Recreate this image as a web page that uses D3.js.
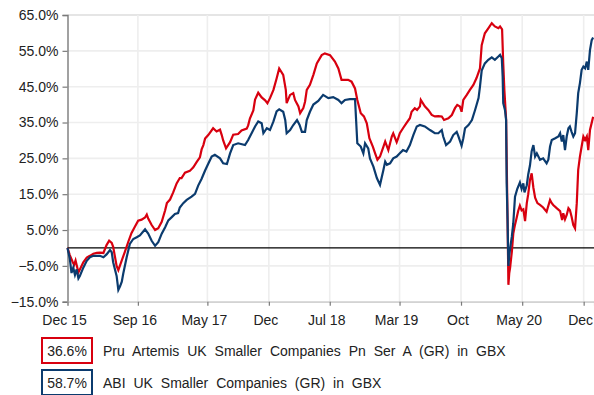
<!DOCTYPE html>
<html>
<head>
<meta charset="utf-8">
<script src="https://cdn.jsdelivr.net/npm/d3@7"></script>
<style>
  html, body { margin: 0; padding: 0; background: #fff; }
  svg { display: block; font-family: "Liberation Sans", Arial, sans-serif; }
</style>
</head>
<body>
<svg id="chart" width="594" height="395"></svg>
<script>
// Cumulative total return (%) since 31 Dec 2015
const pruDates = ["2015-12-31","2016-01-08","2016-01-18","2016-01-23","2016-01-28","2016-01-31","2016-02-07","2016-02-12","2016-02-24","2016-03-07","2016-03-18","2016-03-30","2016-04-11","2016-04-22","2016-05-04","2016-05-15","2016-05-24","2016-06-02","2016-06-07","2016-06-19","2016-06-25","2016-07-07","2016-07-18","2016-07-30","2016-08-10","2016-08-22","2016-09-02","2016-09-14","2016-09-26","2016-10-02","2016-10-07","2016-10-19","2016-10-31","2016-11-11","2016-11-23","2016-12-05","2016-12-11","2016-12-22","2017-01-02","2017-01-14","2017-01-25","2017-01-31","2017-02-12","2017-03-01","2017-03-13","2017-03-25","2017-04-05","2017-04-11","2017-04-17","2017-04-23","2017-05-04","2017-05-21","2017-06-02","2017-06-14","2017-06-20","2017-06-25","2017-07-05","2017-07-19","2017-07-30","2017-08-16","2017-08-28","2017-09-15","2017-09-20","2017-09-26","2017-10-08","2017-10-14","2017-10-25","2017-11-06","2017-11-18","2017-11-26","2017-12-05","2017-12-17","2017-12-28","2018-01-06","2018-01-20","2018-01-29","2018-02-01","2018-02-13","2018-02-24","2018-03-02","2018-03-14","2018-03-20","2018-03-31","2018-04-06","2018-04-12","2018-04-23","2018-05-05","2018-05-17","2018-06-03","2018-06-14","2018-07-02","2018-07-19","2018-07-31","2018-08-11","2018-09-03","2018-09-15","2018-09-27","2018-10-05","2018-10-17","2018-10-28","2018-11-07","2018-11-16","2018-11-28","2018-12-06","2018-12-14","2018-12-23","2019-01-04","2019-01-10","2019-01-21","2019-02-02","2019-02-07","2019-02-19","2019-02-24","2019-03-02","2019-03-13","2019-03-25","2019-04-06","2019-04-12","2019-04-23","2019-05-01","2019-05-11","2019-05-14","2019-05-28","2019-06-09","2019-06-21","2019-07-02","2019-07-14","2019-07-26","2019-08-03","2019-08-18","2019-08-30","2019-09-10","2019-09-18","2019-09-27","2019-10-03","2019-10-09","2019-10-21","2019-11-01","2019-11-13","2019-11-24","2019-12-06","2019-12-12","2019-12-23","2020-01-04","2020-01-16","2020-01-27","2020-02-08","2020-02-14","2020-02-21","2020-02-25","2020-02-29","2020-03-06","2020-03-11","2020-03-14","2020-03-17","2020-03-20","2020-03-26","2020-03-31","2020-04-06","2020-04-12","2020-04-17","2020-04-23","2020-04-29","2020-05-05","2020-05-11","2020-05-17","2020-05-22","2020-05-28","2020-06-03","2020-06-09","2020-06-15","2020-06-23","2020-07-02","2020-07-13","2020-07-25","2020-08-06","2020-08-12","2020-08-17","2020-08-29","2020-09-10","2020-09-17","2020-09-21","2020-09-27","2020-10-03","2020-10-09","2020-10-14","2020-10-20","2020-10-26","2020-11-01","2020-11-07","2020-11-12","2020-11-18","2020-11-24","2020-11-30","2020-12-06","2020-12-12","2020-12-17","2020-12-23","2021-01-03"];
const pruValues = [0,-2.0,-3.9,-4.7,-3.5,-4.5,-6.8,-6.0,-4.0,-2.7,-2.2,-1.6,-1.4,-1.3,-1.4,0.8,2.0,1.4,0.3,-5.0,-6.2,-3.5,-1.0,1.8,4.2,6.0,7.6,7.9,8.5,9.3,8.2,6.4,5.0,5.5,7.3,10.5,12.5,13.5,15.5,18.0,19.5,19.5,21.0,21.5,22.5,24.0,25.3,27.5,28.7,30.5,31.5,33.4,32.5,33.0,31.5,30.0,27.8,29.5,31.6,31.8,32.8,33.3,34.2,36.1,38.4,41.4,43.3,42.0,41.2,40.4,41.8,44.1,47.3,50.1,48.3,44.1,40.4,42.7,43.2,41.3,39.5,37.6,39.0,40.8,44.1,45.5,48.3,51.5,53.8,54.3,53.8,52.0,50.1,46.9,46.9,46.4,44.5,41.3,37.6,36.7,34.8,30.6,28.3,26.4,24.6,25.5,28.3,29.7,27.3,31.1,32.0,29.5,30.6,32.0,33.4,34.8,36.2,38.0,39.0,38.5,39.5,41.3,39.5,38.5,37.1,36.7,36.8,36.7,35.7,36.2,37.1,39.0,39.9,39.5,38.0,41.3,42.7,44.1,45.5,47.4,50.1,56.6,59.9,61.3,62.7,61.8,61.3,61.8,61.0,51.5,44.0,36.0,8.0,-10.3,-7.0,-5.5,-1.0,4.0,6.5,8.5,10.3,11.8,10.5,10.8,7.5,12.5,15.0,19.0,20.8,16.8,14.0,12.5,12.0,11.3,10.1,13.4,12.5,12.0,11.1,10.3,7.8,9.7,8.0,9.2,11.1,10.6,8.7,6.4,5.5,12.5,21.8,25.5,28.3,31.1,30.1,31.1,27.3,32.9,36.6];

const abiDates = ["2015-12-31","2016-01-08","2016-01-14","2016-01-20","2016-01-26","2016-02-01","2016-02-07","2016-02-12","2016-02-24","2016-03-07","2016-03-18","2016-03-30","2016-04-11","2016-04-22","2016-05-04","2016-05-15","2016-05-27","2016-06-02","2016-06-07","2016-06-19","2016-06-25","2016-07-01","2016-07-07","2016-07-12","2016-07-24","2016-08-04","2016-08-16","2016-08-28","2016-09-08","2016-09-26","2016-10-07","2016-10-19","2016-10-31","2016-11-11","2016-11-23","2016-12-05","2016-12-16","2016-12-28","2017-01-08","2017-01-19","2017-01-25","2017-02-06","2017-02-18","2017-03-07","2017-03-19","2017-03-30","2017-04-11","2017-04-23","2017-05-04","2017-05-16","2017-05-27","2017-06-14","2017-06-25","2017-07-08","2017-07-19","2017-07-30","2017-08-16","2017-09-09","2017-09-20","2017-10-02","2017-10-14","2017-10-25","2017-11-06","2017-11-12","2017-11-24","2017-12-05","2017-12-17","2017-12-28","2018-01-06","2018-01-20","2018-01-27","2018-02-01","2018-02-13","2018-02-24","2018-03-09","2018-03-18","2018-03-26","2018-04-06","2018-04-12","2018-04-23","2018-05-05","2018-05-22","2018-06-08","2018-06-26","2018-07-13","2018-07-31","2018-08-11","2018-08-23","2018-09-09","2018-09-27","2018-10-05","2018-10-17","2018-10-26","2018-11-01","2018-11-12","2018-11-18","2018-11-30","2018-12-12","2018-12-23","2019-01-04","2019-01-10","2019-01-16","2019-01-27","2019-02-07","2019-02-19","2019-03-02","2019-03-13","2019-03-25","2019-04-06","2019-04-18","2019-04-30","2019-05-11","2019-05-28","2019-06-15","2019-07-02","2019-07-14","2019-07-26","2019-07-31","2019-08-10","2019-08-24","2019-09-04","2019-09-16","2019-09-22","2019-10-03","2019-10-09","2019-10-15","2019-10-27","2019-11-08","2019-11-19","2019-12-01","2019-12-06","2019-12-12","2019-12-23","2020-01-04","2020-01-16","2020-01-27","2020-02-08","2020-02-14","2020-02-20","2020-02-23","2020-02-25","2020-03-02","2020-03-06","2020-03-08","2020-03-11","2020-03-14","2020-03-17","2020-03-22","2020-03-26","2020-03-31","2020-04-06","2020-04-14","2020-04-23","2020-04-29","2020-05-05","2020-05-09","2020-05-17","2020-05-22","2020-05-28","2020-06-03","2020-06-09","2020-06-15","2020-06-21","2020-07-02","2020-07-13","2020-07-25","2020-07-31","2020-08-06","2020-08-12","2020-08-24","2020-09-04","2020-09-10","2020-09-16","2020-09-21","2020-09-27","2020-10-03","2020-10-09","2020-10-14","2020-10-20","2020-10-26","2020-11-01","2020-11-07","2020-11-12","2020-11-18","2020-11-24","2020-11-30","2020-12-06","2020-12-12","2020-12-17","2020-12-23","2020-12-29","2021-01-03"];
const abiValues = [0,-3.0,-7.0,-5.5,-7.5,-6.0,-8.5,-7.8,-5.5,-3.6,-2.6,-2.2,-2.2,-2.2,-2.6,-1.8,-0.6,-1.2,-4.0,-7.8,-11.7,-10.7,-9.4,-7.2,-2.6,1.1,2.5,3.0,3.5,5.2,4.0,2.0,0.6,1.6,4.0,5.8,7.7,8.6,9.5,9.7,11.3,12.5,13.4,14.3,15.1,17.4,19.3,21.6,23.5,25.5,26.0,25.0,23.6,23.4,26.4,28.7,29.2,28.7,30.1,32.0,33.9,35.3,34.8,32.0,33.4,32.9,35.3,38.1,38.7,38.0,35.7,32.0,32.9,34.3,35.7,34.3,32.4,32.4,35.7,38.0,40.0,41.0,42.7,41.8,42.1,41.3,40.4,41.3,41.5,41.5,29.2,28.3,26.4,29.2,27.8,25.0,22.7,19.5,17.6,21.8,24.1,23.2,23.6,25.0,25.5,26.4,27.3,26.9,28.7,31.5,33.9,34.3,33.9,32.9,32.0,32.0,32.9,31.1,28.7,29.7,31.5,32.4,31.1,28.5,30.6,33.4,34.3,35.7,38.5,41.8,45.0,49.5,51.5,52.5,53.2,52.5,53.4,53.9,52.9,47.8,40.4,38.5,35.7,18.0,8.0,-5.0,-2.0,1.0,3.2,6.9,14.3,16.5,18.3,16.5,18.0,15.5,17.5,20.5,23.0,27.0,28.7,25.5,26.4,24.6,25.0,23.6,24.6,28.3,30.1,30.6,31.1,32.0,29.7,31.5,27.3,31.1,33.4,33.9,32.4,31.1,32.0,37.6,43.2,46.0,49.7,50.6,50.1,52.0,49.7,55.2,58.0,58.7];

const seriesNames = ["Pru Artemis UK Smaller Companies Pn Ser A (GR) in GBX", "ABI UK Smaller Companies (GR) in GBX"];
const seriesTotals = [36.6, 58.7];
const seriesColors = ["#d8000f", "#0b3b6e"];

const xTickDates = ["2015-12-31","2016-09-01","2017-05-01","2017-12-01","2018-07-01","2019-03-01","2019-10-01","2020-05-01","2020-12-01"];
const xTickLabels = ["Dec 15","Sep 16","May 17","Dec","Jul 18","Mar 19","Oct","May 20","Dec"];
const yTicks = [65, 55, 45, 35, 25, 15, 5, -5, -15];

const parse = d3.utcParse("%Y-%m-%d");
const svg = d3.select("#chart");

const plot = { left: 67.5, right: 594, top: 15, bottom: 301.7 };

const x = d3.scaleUtc()
  .domain([parse("2015-12-31"), parse("2021-01-06")])
  .range([plot.left, plot.right]);
const y = d3.scaleLinear()
  .domain([-15, 65])
  .range([plot.bottom, plot.top]);

// grid
const grid = svg.append("g");
grid.selectAll("line.h").data(yTicks).join("line")
  .attr("x1", plot.left).attr("x2", plot.right)
  .attr("y1", d => y(d)).attr("y2", d => y(d))
  .attr("stroke", d => d === 65 ? "#dcdcdc" : "#eeeeee")
  .attr("stroke-width", 1.6);
grid.selectAll("line.v").data(xTickDates.slice(1)).join("line")
  .attr("x1", d => x(parse(d))).attr("x2", d => x(parse(d)))
  .attr("y1", plot.top).attr("y2", plot.bottom)
  .attr("stroke", "#eeeeee")
  .attr("stroke-width", 1.6);

// left axis
const yAxis = svg.append("g")
  .attr("transform", `translate(${plot.left},0)`)
  .call(d3.axisLeft(y).tickValues(yTicks).tickSize(5).tickPadding(4)
    .tickFormat(d => d3.format(".1f")(d) + "%"));
yAxis.select(".domain").attr("stroke", "#7a7a7a").attr("stroke-width", 1.4);
yAxis.selectAll(".tick line").attr("stroke", "#7a7a7a").attr("stroke-width", 1.2);
yAxis.selectAll(".tick text").attr("font-size", 14).attr("fill", "#222")
  .attr("font-family", "'Liberation Sans', Arial, sans-serif");

// bottom axis
const xAxis = svg.append("g")
  .attr("transform", `translate(0,${plot.bottom})`)
  .call(d3.axisBottom(x).tickValues(xTickDates.map(parse)).tickSize(4).tickPadding(9)
    .tickFormat((d, i) => xTickLabels[i]));
xAxis.select(".domain").attr("stroke", "#c8c8c8").attr("stroke-width", 1.2);
xAxis.selectAll(".tick line").attr("stroke", "#7a7a7a").attr("stroke-width", 1.2);
xAxis.selectAll(".tick text").attr("font-size", 14).attr("fill", "#222")
  .attr("dx", -3.5)
  .attr("font-family", "'Liberation Sans', Arial, sans-serif");

// zero line
svg.append("line")
  .attr("x1", plot.left).attr("x2", plot.right)
  .attr("y1", y(0)).attr("y2", y(0))
  .attr("stroke", "#000").attr("stroke-width", 1.3);

// series lines
const line = d3.line()
  .x(d => x(d.date))
  .y(d => y(d.value));

const series = [
  pruDates.map((d, i) => ({ date: parse(d), value: pruValues[i] })),
  abiDates.map((d, i) => ({ date: parse(d), value: abiValues[i] }))
];

svg.append("g").selectAll("path").data(series).join("path")
  .attr("d", line)
  .attr("fill", "none")
  .attr("stroke", (d, i) => seriesColors[i])
  .attr("stroke-width", 2.2)
  .attr("stroke-linejoin", "miter");

// legend
const legend = svg.append("g");
const rows = legend.selectAll("g").data(seriesNames).join("g")
  .attr("transform", (d, i) => `translate(42,${338 + i * 32})`);
rows.append("rect")
  .attr("width", 50).attr("height", 25)
  .attr("fill", "#fff")
  .attr("stroke", (d, i) => seriesColors[i])
  .attr("stroke-width", 2);
rows.append("text")
  .attr("x", 25).attr("y", 17.5)
  .attr("text-anchor", "middle")
  .attr("font-size", 14).attr("fill", "#222")
  .text((d, i) => d3.format(".1f")(seriesTotals[i]) + "%");
rows.append("text")
  .attr("x", 61).attr("y", 17.5)
  .attr("font-size", 14).attr("fill", "#222")
  .style("word-spacing", "4px")
  .text(d => d);
</script>
</body>
</html>
